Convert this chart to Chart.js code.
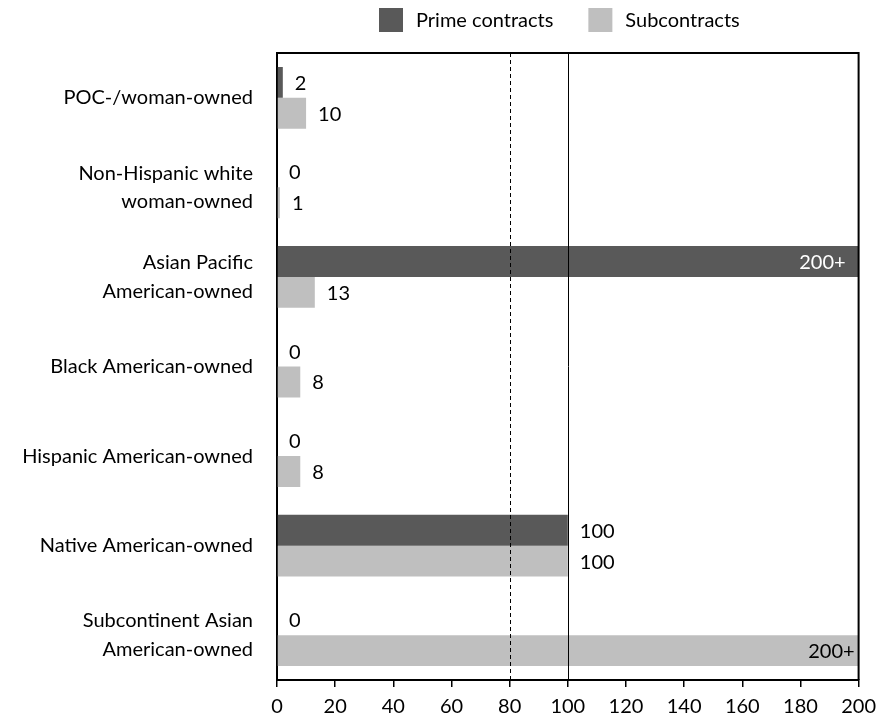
<!DOCTYPE html>
<html>
<head>
<meta charset="utf-8">
<script src="https://cdn.jsdelivr.net/npm/chart.js@4/dist/chart.umd.min.js"></script>
<style>
  html, body { margin: 0; padding: 0; background: #fff; }
  #wrap { width: 884px; height: 723px; }
</style>
</head>
<body>
<div id="wrap"><canvas id="c" width="884" height="723"></canvas></div>
<script>
// Disparity ratios by ownership group (values at the cap are shown as "200+")
const categories = [
  'POC-/woman-owned',
  ['Non-Hispanic white', 'woman-owned'],
  ['Asian Pacific', 'American-owned'],
  'Black American-owned',
  'Hispanic American-owned',
  'Native American-owned',
  ['Subcontinent Asian', 'American-owned']
];
const primeContracts = [2, 0, 200, 0, 0, 100, 0];
const subContracts = [10, 1, 13, 8, 8, 100, 200];
const seriesNames = ['Prime contracts', 'Subcontracts'];
const seriesColors = ['#595959', '#bfbfbf'];
const xTicks = [0, 20, 40, 60, 80, 100, 120, 140, 160, 180, 200];
const axisMax = 200;
const referenceLines = [80, 100];

const FONT = 'Lato, "Open Sans", sans-serif';
const FSIZE = 20;

function valueText(v) {
  return v >= axisMax ? axisMax + '+' : String(v);
}

// Legend drawn above the plot
const legendPlugin = {
  id: 'topLegend',
  afterDraw(chart) {
    const ctx = chart.ctx;
    const area = chart.chartArea;
    ctx.save();
    ctx.font = FSIZE + 'px ' + FONT;
    const box = 24, textGap = 13, itemGap = 35;
    const widths = chart.data.datasets.map(d => ctx.measureText(d.label).width);
    let total = 0;
    widths.forEach((w, i) => { total += box + textGap + w + (i ? itemGap : 0); });
    let x = Math.round((area.left + area.right) / 2 - total / 2 - 8);
    const yc = 20;
    chart.data.datasets.forEach((d, i) => {
      ctx.fillStyle = d.backgroundColor;
      ctx.fillRect(x, yc - box / 2, box, box);
      ctx.fillStyle = '#000';
      ctx.textAlign = 'left';
      ctx.textBaseline = 'middle';
      ctx.fillText(d.label, x + box + textGap, yc + 1);
      x += box + textGap + widths[i] + itemGap;
    });
    ctx.restore();
  }
};

// Frame, reference lines and value labels
const overlayPlugin = {
  id: 'overlay',
  afterDatasetsDraw(chart) {
    const ctx = chart.ctx;
    const area = chart.chartArea;
    const xs = chart.scales.x;
    ctx.save();
    // reference lines at 80 (dashed) and 100 (solid)
    referenceLines.forEach((v, i) => {
      const px = Math.round(xs.getPixelForValue(v)) + 0.5;
      ctx.beginPath();
      ctx.strokeStyle = '#000';
      ctx.lineWidth = 1;
      ctx.setLineDash(i === 0 ? [4, 3] : []);
      ctx.moveTo(px, area.top);
      ctx.lineTo(px, area.bottom);
      ctx.stroke();
    });
    ctx.setLineDash([]);
    // top and right edges of the plot frame
    ctx.beginPath();
    ctx.strokeStyle = '#000';
    ctx.lineWidth = 2;
    ctx.moveTo(area.left, area.top);
    ctx.lineTo(area.right, area.top);
    ctx.lineTo(area.right, area.bottom);
    ctx.stroke();
    // value labels
    ctx.font = FSIZE + 'px ' + FONT;
    ctx.textBaseline = 'middle';
    chart.data.datasets.forEach((ds, di) => {
      const meta = chart.getDatasetMeta(di);
      meta.data.forEach((el, i) => {
        const v = ds.data[i];
        const t = valueText(v);
        if (v >= axisMax) {
          ctx.textAlign = 'right';
          ctx.fillStyle = di === 0 ? '#fff' : '#000';
          ctx.fillText(t, el.x - (di === 0 ? 13 : 4), el.y + 1);
        } else {
          ctx.textAlign = 'left';
          ctx.fillStyle = '#000';
          ctx.fillText(t, el.x + 12, el.y + 1);
        }
      });
    });
    ctx.restore();
  }
};

new Chart(document.getElementById('c'), {
  type: 'bar',
  data: {
    labels: categories,
    datasets: [
      { label: seriesNames[0], data: primeContracts, backgroundColor: seriesColors[0] },
      { label: seriesNames[1], data: subContracts, backgroundColor: seriesColors[1] }
    ]
  },
  options: {
    indexAxis: 'y',
    responsive: false,
    animation: false,
    categoryPercentage: 0.69,
    barPercentage: 1.0,
    layout: { padding: { top: 53, right: 23, left: 0, bottom: 0 } },
    plugins: {
      legend: { display: false },
      tooltip: { enabled: false }
    },
    scales: {
      x: {
        min: 0,
        max: axisMax,
        afterBuildTicks(scale) { scale.ticks = xTicks.map(v => ({ value: v })); },
        afterFit(scale) { scale.height = 43; },
        grid: { display: true, drawOnChartArea: false, drawTicks: true, tickLength: 7, color: '#000', lineWidth: 1.5 },
        border: { display: true, color: '#000', width: 2 },
        ticks: { color: '#000', padding: 8, maxRotation: 0, font: { family: FONT, size: FSIZE } }
      },
      y: {
        afterFit(scale) { scale.width = 277; },
        grid: { display: false, drawTicks: false },
        border: { display: true, color: '#000', width: 2 },
        ticks: { color: '#000', padding: 24, font: { family: FONT, size: FSIZE, lineHeight: 1.42 } }
      }
    }
  },
  plugins: [legendPlugin, overlayPlugin]
});
</script>
</body>
</html>
